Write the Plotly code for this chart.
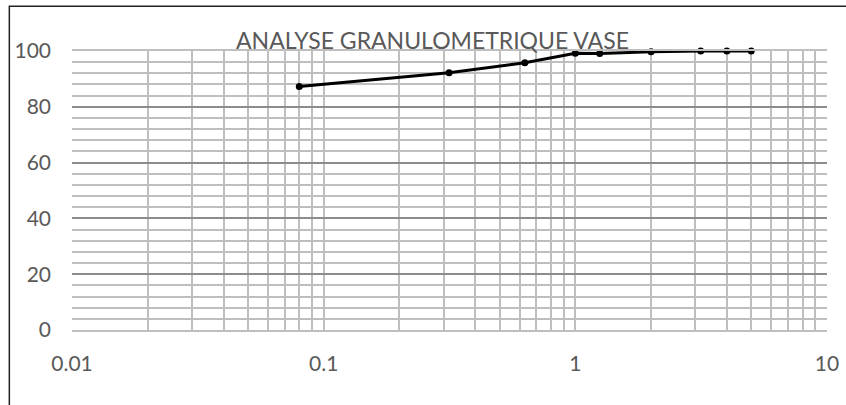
import plotly.graph_objects as go

# sieve openings (mm) and cumulative passing (%)
sieve_mm = [0.08, 0.315, 0.63, 1, 1.25, 2, 3.15, 4, 5]
passing_pct = [87.3, 92.2, 95.8, 99.2, 99.1, 99.7, 100, 100, 100]

title_text = "ANALYSE GRANULOMETRIQUE VASE"
font_family = "Lato, 'Open Sans', sans-serif"
text_grey = "#595959"

fig = go.Figure()

fig.add_trace(go.Scatter(
    x=sieve_mm,
    y=passing_pct,
    mode="lines+markers",
    line=dict(color="black", width=3),
    marker=dict(color="black", size=7),
    showlegend=False,
    cliponaxis=False,
))

# outer chart frame (only top and left edges visible in the crop)
fig.add_shape(type="rect", xref="paper", yref="paper",
              x0=-0.083, x1=1.1, y0=-0.5, y1=1.16,
              line=dict(color="#222222", width=1.5),
              fillcolor="rgba(0,0,0,0)", layer="above")

# chart title sits right on the top gridline
fig.add_annotation(
    text=title_text, xref="paper", yref="paper",
    x=0.477, y=1.0, xanchor="center", yanchor="bottom", yshift=-5,
    showarrow=False,
    font=dict(family=font_family, size=23, color=text_grey),
)

fig.update_layout(
    width=846,
    height=405,
    margin=dict(l=72, r=19, t=51, b=75),
    paper_bgcolor="white",
    plot_bgcolor="white",
    font=dict(family=font_family, color=text_grey, size=21),
    xaxis=dict(
        type="log",
        range=[-2, 1],
        automargin=False,
        tickvals=[0.01, 0.1, 1, 10],
        ticktext=["0.01", "0.1", "1", "10"],
        showgrid=True,
        gridcolor="#bfbfbf",
        gridwidth=2,
        minor=dict(dtick="D1", showgrid=True, gridcolor="#bfbfbf", gridwidth=2),
        zeroline=False,
        showline=True,
        linecolor="#bfbfbf",
        linewidth=2,
        mirror=True,
        ticks="",
        ticklabelstandoff=14,
        tickfont=dict(size=21, color=text_grey),
    ),
    yaxis=dict(
        range=[0, 100],
        automargin=False,
        dtick=20,
        showgrid=True,
        gridcolor="#8c8c8c",
        gridwidth=2,
        minor=dict(dtick=4, showgrid=True, gridcolor="#bfbfbf", gridwidth=2),
        zeroline=False,
        showline=False,
        ticks="",
        ticklabelstandoff=20,
        tickfont=dict(size=21, color=text_grey),
    ),
)

fig.write_html(
    "out.html",
    config={"displayModeBar": False},
    post_script="document.body.style.margin='0';document.body.style.overflow='hidden';",
)
